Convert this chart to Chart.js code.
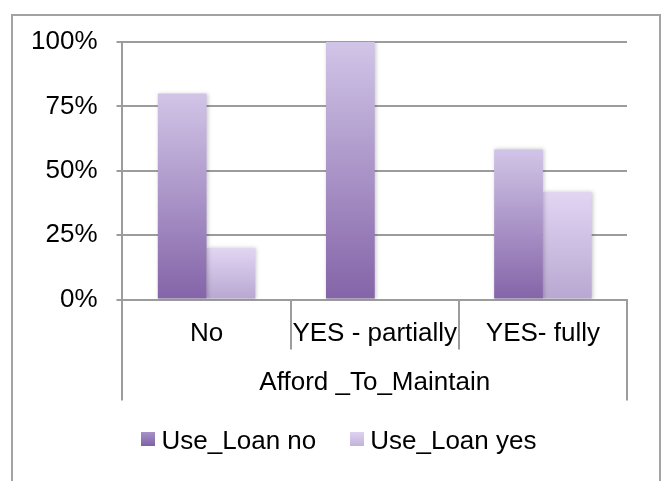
<!DOCTYPE html>
<html><head><meta charset="utf-8">
<script src="https://cdn.jsdelivr.net/npm/chart.js@4.4.1/dist/chart.umd.min.js"></script>
<style>
html,body{margin:0;padding:0;background:#fff;overflow:hidden;}
#wrap{position:relative;width:663px;height:481px;}
#frame{position:absolute;left:11px;top:14px;width:646px;height:500px;border:2px solid #a3a3a3;border-bottom:none;pointer-events:none;}
canvas{position:absolute;left:0;top:0;}
</style></head><body>
<div id="wrap"><canvas id="c" width="663" height="481"></canvas><div id="frame"></div></div>
<script>
const categories = ['No', 'YES - partially', 'YES- fully'];
const groupLabel = 'Afford _To_Maintain';
const seriesNames = ['Use_Loan no', 'Use_Loan yes'];
const useLoanNo = [80, 100, 58.3];
const useLoanYes = [20, 0, 41.7];
const yTickValues = [0, 25, 50, 75, 100];

const FONT = "'Liberation Sans', Arial, sans-serif";
const gridColor = '#9c9c9c';
const noTop = '#d1c5e7', noBottom = '#8464a8';
const yesTop = '#e1d5f3', yesBottom = '#b8a7d1';

function barGradient(top, bottom) {
  return (ctx) => {
    const chart = ctx.chart;
    if (!chart.chartArea || ctx.type !== 'data') return bottom;
    const ys = chart.scales.y;
    const y0 = ys.getPixelForValue(0), y1 = ys.getPixelForValue(ctx.raw);
    if (Math.abs(y0 - y1) < 1) return bottom;
    const g = chart.ctx.createLinearGradient(0, y1, 0, y0);
    g.addColorStop(0, top); g.addColorStop(1, bottom);
    return g;
  };
}
function swatch(top, bottom) {
  const c = document.createElement('canvas'); c.width = 14; c.height = 20;
  const x = c.getContext('2d');
  const g = x.createLinearGradient(0, 0, 0, 14);
  g.addColorStop(0, top); g.addColorStop(1, bottom);
  x.fillStyle = g; x.fillRect(0, 0, 14, 14);
  return c;
}
const swatches = [swatch('#a792c8', '#7f61a4'), swatch('#ded2f0', '#c2b3db')];

const shadowPlugin = {
  id: 'barShadow',
  beforeDatasetsDraw(chart) { const c = chart.ctx; c.save(); c.shadowColor = 'rgba(0,0,0,0.22)'; c.shadowBlur = 4; c.shadowOffsetX = 1; c.shadowOffsetY = 0; },
  afterDatasetsDraw(chart) { chart.ctx.restore(); }
};

const font = {family: FONT, size: 26};

new Chart(document.getElementById('c'), {
  type: 'bar',
  data: {
    labels: categories,
    datasets: [
      {label: seriesNames[0], data: useLoanNo, xAxisID: 'x', yAxisID: 'y', backgroundColor: barGradient(noTop, noBottom), borderWidth: 0},
      {label: seriesNames[1], data: useLoanYes, xAxisID: 'x', yAxisID: 'y', backgroundColor: barGradient(yesTop, yesBottom), borderWidth: 0}
    ]
  },
  options: {
    responsive: false,
    animation: false,
    events: [],
    datasets: {bar: {categoryPercentage: 0.58, barPercentage: 1}},
    layout: {padding: {left: 12, right: -9, top: 42, bottom: 16}},
    scales: {
      x: {
        type: 'category', position: 'bottom', weight: 0, offset: true,
        grid: {offset: true, drawOnChartArea: false, drawTicks: true, tickLength: 50, color: gridColor, lineWidth: 2},
        border: {display: true, color: gridColor, width: 2},
        ticks: {padding: -31, maxRotation: 0, minRotation: 0, autoSkip: false, font, color: '#000'},
        title: {display: true, text: groupLabel, font, color: '#000', padding: {top: 48, bottom: -9}}
      },
      x2: {
        type: 'category', position: 'bottom', weight: -1,
        labels: [groupLabel], offset: true,
        grid: {offset: true, drawOnChartArea: false, drawTicks: true, tickLength: 101, color: gridColor, lineWidth: 2},
        border: {display: false},
        ticks: {display: false},
        afterFit: s => { s.height = 0; }
      },
      y: {
        position: 'left',
        min: 0, max: 100,
        afterBuildTicks: s => { s.ticks = yTickValues.map(v => ({value: v})); },
        grid: {color: gridColor, lineWidth: 2, drawTicks: true, tickLength: 6},
        border: {display: true, color: gridColor, width: 2},
        ticks: {padding: 19, font, color: '#000', callback: v => v + '%'}
      },
      y2: {
        type: 'linear', position: 'right',
        grid: {display: false, drawTicks: false},
        border: {display: false},
        ticks: {display: false},
        afterFit: s => { s.width = 45; }
      }
    },
    plugins: {
      tooltip: {enabled: false},
      legend: {
        position: 'bottom',
        labels: {
          usePointStyle: true, boxWidth: 1, boxHeight: 14, padding: 40,
          font, color: '#000',
          generateLabels: (chart) => chart.data.datasets.map((ds, i) => ({
            text: ds.label, pointStyle: swatches[i], datasetIndex: i, hidden: false,
            lineWidth: 0, strokeStyle: 'rgba(0,0,0,0)', fillStyle: 'rgba(0,0,0,0)'
          }))
        }
      }
    }
  },
  plugins: [shadowPlugin]
});
</script>
</body></html>
